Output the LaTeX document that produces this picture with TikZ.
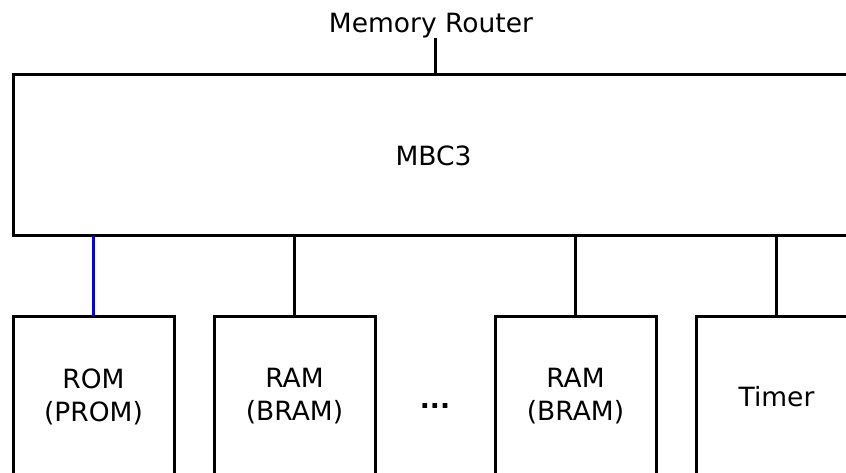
\documentclass[tikz,border=0pt]{standalone}
\usepackage{fontspec}
\setmainfont{DejaVu Sans}
\usetikzlibrary{positioning, calc}

\begin{document}
\begin{tikzpicture}[
    x=1pt, y=1pt,
    node distance=40pt,
    memblock/.style={draw, line width=3pt, outer sep=0pt, minimum width=161pt, minimum height=161pt, align=center, inner sep=0pt, font=\fontsize{26.5}{33}\selectfont},
    busline/.style={line width=3pt},
    romline/.style={busline, draw=blue}
]
\useasboundingbox (0,0) rectangle (846,-473);
\clip (0,0) rectangle (846,-473);

% --- Controller and router ---
\node[memblock, minimum width=841pt, minimum height=161pt] (mbc) at (433.5,-155.5) {MBC3};
\node[font=\fontsize{26.5}{33}\selectfont, inner sep=0pt, anchor=south] (router) at (431,-38) {Memory Router};

% --- Memory banks (one row) ---
\node[memblock, anchor=north west] (rom) at (13,-316) {ROM\\(PROM)};
\node[memblock, right=of rom] (ram) {RAM\\(BRAM)};
\node[memblock, right=120pt of ram] (ramn) {RAM\\(BRAM)};
\node[memblock, right=of ramn] (timer) {Timer};
\node[font=\fontsize{26.5}{33}\selectfont, yshift=-9pt] (dots) at ($(ram.east)!0.5!(ramn.west)$) {\textbf{...}};

% --- Connections ---
\draw[busline] (mbc.north) ++(1.5,0) coordinate (mbcin) -- (mbcin |- router.south);
\draw[romline] (rom.north) -- (rom.north |- mbc.south);
\draw[busline] (ram.north) -- (ram.north |- mbc.south);
\draw[busline] (ramn.north) -- (ramn.north |- mbc.south);
\draw[busline] (timer.north) -- (timer.north |- mbc.south);

\end{tikzpicture}
\end{document}
